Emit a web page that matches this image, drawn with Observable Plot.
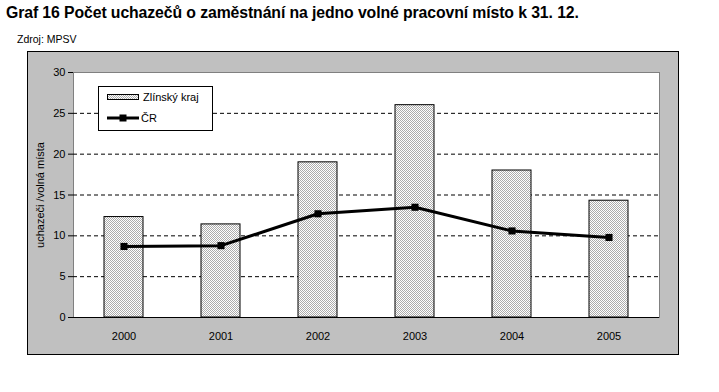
<!DOCTYPE html>
<html>
<head>
<meta charset="utf-8">
<script src="https://cdn.jsdelivr.net/npm/d3@7"></script>
<script src="https://cdn.jsdelivr.net/npm/@observablehq/plot@0.6"></script>
<style>
  html, body { margin: 0; padding: 0; background: #fff; }
  body { width: 719px; height: 392px; position: relative; overflow: hidden; font-family: "Liberation Sans", Arial, sans-serif; color: #000; }
  #title { position: absolute; left: 6px; top: 4px; font-weight: bold; font-size: 15.8px; white-space: nowrap; letter-spacing: -0.1px; }
  #src { position: absolute; left: 17px; top: 33px; font-size: 10.5px; white-space: nowrap; }
  #frame { position: absolute; left: 27px; top: 51px; width: 650px; height: 302px; border: 1px solid #000; background: #c0c0c0; }
  #frame svg { display: block; }
  #legend { position: absolute; left: 98px; top: 86px; width: 113px; height: 43px; border: 1px solid #000; background: #fff; }
  #legend svg { display: block; }
</style>
</head>
<body>
<div id="title">Graf 16 Počet uchazečů o zaměstnání na jedno volné pracovní místo k 31. 12.</div>
<div id="src">Zdroj: MPSV</div>
<div id="frame"></div>
<div id="legend"></div>
<script>
// ---- data ----
const years = ["2000", "2001", "2002", "2003", "2004", "2005"];
const zlinskyKraj = [12.3, 11.4, 19.0, 26.0, 18.0, 14.3];
const cr = [8.7, 8.8, 12.7, 13.5, 10.6, 9.8];
const yTicks = [0, 5, 10, 15, 20, 25, 30];
const gridValues = [5, 10, 15, 20, 25];
const seriesNames = ["Zlínský kraj", "ČR"];
const yLabel = "uchazeči /volná místa";

const data = years.map((y, i) => ({year: y, zlin: zlinskyKraj[i], cr: cr[i]}));

const chart = Plot.plot({
  width: 650,
  height: 302,
  marginLeft: 45,
  marginRight: 19,
  marginTop: 20,
  marginBottom: 37,
  style: {fontFamily: "'Liberation Sans', Arial, sans-serif", fontSize: "11px", background: "transparent", color: "#000", overflow: "visible"},
  x: {type: "band", domain: years, paddingInner: 0.6, paddingOuter: 0.3, label: null, tickSize: 0, tickPadding: 15},
  y: {domain: [0, 30], ticks: yTicks, tickSize: 5, tickPadding: 3, line: true, label: yLabel, labelAnchor: "center", labelOffset: 37, labelArrow: "none"},
  marks: [
    Plot.frame({fill: "#fff", stroke: "#808080"}),
    Plot.ruleY(gridValues, {stroke: "#000", strokeDasharray: "4,3", strokeWidth: 1}),
    Plot.barY(data, {x: "year", y: "zlin", fill: "url(#hatch)", stroke: "#000", strokeWidth: 1}),
    Plot.line(data, {x: "year", y: "cr", stroke: "#000", strokeWidth: 3, curve: "linear"}),
    Plot.dot(data, {x: "year", y: "cr", symbol: "square", r: 4, fill: "#000", stroke: "none"}),
    Plot.ruleY([0], {stroke: "#000", strokeWidth: 1})
  ]
});

const hatchDefs = `<defs><pattern id="hatch" width="2" height="2" patternUnits="userSpaceOnUse"><rect width="2" height="2" fill="#ffffff"/><rect width="1" height="1" fill="#acacac"/><rect x="1" y="1" width="1" height="1" fill="#acacac"/></pattern></defs>`;
chart.insertAdjacentHTML("afterbegin", hatchDefs);
document.getElementById("frame").appendChild(chart);

// ---- legend ----
const legend = document.getElementById("legend");
legend.innerHTML = `<svg width="113" height="43" font-family="'Liberation Sans', Arial, sans-serif" font-size="11">
  <defs><pattern id="hatch2" width="2" height="2" patternUnits="userSpaceOnUse"><rect width="2" height="2" fill="#ffffff"/><rect width="1" height="1" fill="#acacac"/><rect x="1" y="1" width="1" height="1" fill="#acacac"/></pattern></defs>
  <rect x="8.5" y="7.5" width="31" height="5" fill="url(#hatch2)" stroke="#000"/>
  <text x="44" y="10" dy="0.35em">${seriesNames[0]}</text>
  <line x1="8" x2="40" y1="31" y2="31" stroke="#000" stroke-width="3"/>
  <rect x="20.5" y="27.5" width="7" height="7" fill="#000"/>
  <text x="42" y="31" dy="0.35em">${seriesNames[1]}</text>
</svg>`;
</script>
</body>
</html>
